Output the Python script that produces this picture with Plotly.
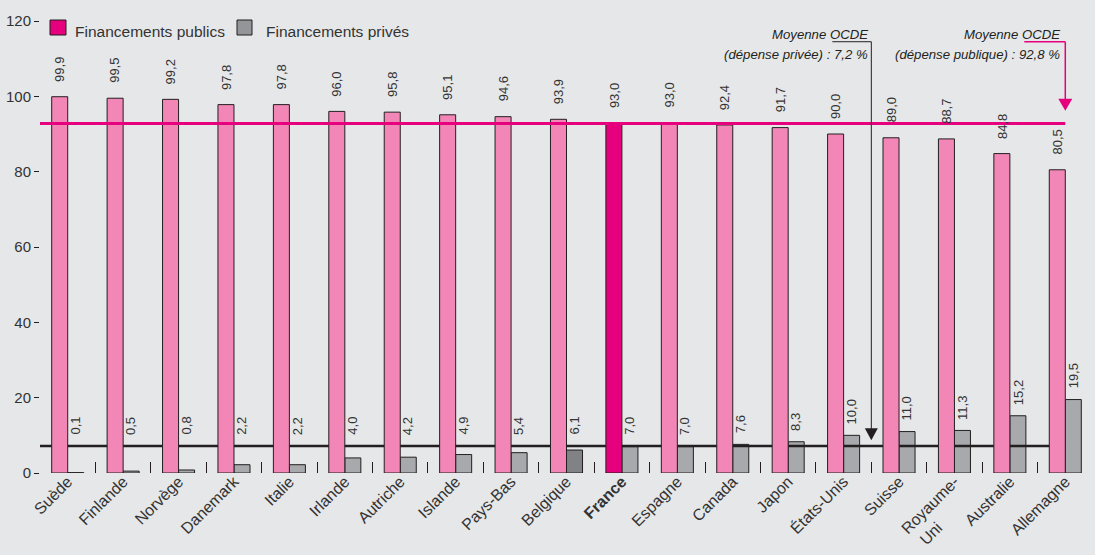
import plotly.graph_objects as go

countries = ["Suède", "Finlande", "Norvège", "Danemark", "Italie", "Irlande", "Autriche",
             "Islande", "Pays-Bas", "Belgique", "France", "Espagne", "Canada", "Japon",
             "États-Unis", "Suisse", "Royaume-Uni", "Australie", "Allemagne"]
tick_labels = ["Suède", "Finlande", "Norvège", "Danemark", "Italie", "Irlande", "Autriche",
               "Islande", "Pays-Bas", "Belgique", "<b>France</b>", "Espagne", "Canada", "Japon",
               "États-Unis", "Suisse", "Royaume-<br>Uni" + "\u00a0" * 10, "Australie",
               "Allemagne"]
public = [99.9, 99.5, 99.2, 97.8, 97.8, 96.0, 95.8, 95.1, 94.6, 93.9, 93.0, 93.0, 92.4,
          91.7, 90.0, 89.0, 88.7, 84.8, 80.5]
private = [0.1, 0.5, 0.8, 2.2, 2.2, 4.0, 4.2, 4.9, 5.4, 6.1, 7.0, 7.0, 7.6, 8.3, 10.0,
           11.0, 11.3, 15.2, 19.5]
oecd_public = 92.8
oecd_private = 7.2
y_ticks = [0, 20, 40, 60, 80, 100, 120]

PINK = "#f287b7"
MAGENTA = "#e6007e"
GREY = "#a7a9ac"
DARKGREY = "#808285"
BG = "#e6e7e8"
INK = "#231f20"
TXT = "#333333"
FONT = "Liberation Sans, Arial, sans-serif"

def fr(v):
    return f"{v:.1f}".replace(".", ",")

def cfont(size, color=TXT):
    return dict(family=FONT, size=size, color=color)

n = len(countries)
x = list(range(n))
BW = 0.289

pub_colors = [MAGENTA if c == "France" else PINK for c in countries]
priv_colors = [DARKGREY if c == "Belgique" else GREY for c in countries]

fig = go.Figure()
fig.add_trace(go.Bar(x=x, y=private, width=BW, offset=0, marker=dict(color=priv_colors,
              line=dict(color=INK, width=1)), showlegend=False, zorder=0, hoverinfo="skip"))
fig.add_trace(go.Scatter(x=[-0.5, n - 1], y=[oecd_private] * 2, mode="lines",
              line=dict(color=INK, width=2.5), showlegend=False, zorder=1, hoverinfo="skip"))
fig.add_trace(go.Bar(x=x, y=public, width=BW, offset=-BW, marker=dict(color=pub_colors,
              line=dict(color=INK, width=1)), showlegend=False, zorder=2, hoverinfo="skip"))
fig.add_trace(go.Scatter(x=[-0.5, n - 1], y=[oecd_public] * 2, mode="lines",
              line=dict(color=MAGENTA, width=3), showlegend=False, zorder=3, hoverinfo="skip"))

annotations = []
for i in range(n):
    annotations.append(dict(x=i - BW / 2, y=public[i], text=fr(public[i]), textangle=-90,
                            showarrow=False, yanchor="bottom", xanchor="center", yshift=13,
                            font=cfont(13)))
    annotations.append(dict(x=i + BW / 2, y=max(private[i], oecd_private), text=fr(private[i]),
                            textangle=-90, showarrow=False, yanchor="bottom", xanchor="center",
                            yshift=9, font=cfont(13)))

# OECD average notes
priv_x = 14.5
pub_x = n - 1
top_y = 114.5
for xx, xs, line2 in [(priv_x, -1, f"(dépense privée) : {fr(oecd_private)} %"),
                      (pub_x, -3, f"(dépense publique) : {fr(oecd_public)} %")]:
    annotations.append(dict(x=xx, y=116.4, xanchor="right", yanchor="middle", xshift=xs,
                            text="<i>Moyenne OCDE</i>", showarrow=False,
                            font=cfont(13.2, INK)))
    annotations.append(dict(x=xx, y=111.1, xanchor="right", yanchor="middle", xshift=xs,
                            text=f"<i>{line2}</i>", showarrow=False,
                            font=cfont(13.2, INK)))

# legend
annotations.append(dict(xref="paper", yref="paper", x=0, y=1, xshift=33, yshift=-10,
                        xanchor="left", yanchor="middle", showarrow=False,
                        text="Financements publics", font=cfont(15.5)))
annotations.append(dict(xref="paper", yref="paper", x=0, y=1, xshift=224, yshift=-10,
                        xanchor="left", yanchor="middle", showarrow=False,
                        text="Financements privés", font=cfont(15.5)))

shapes = [
    dict(type="rect", xref="paper", yref="paper", xsizemode="pixel", ysizemode="pixel",
         xanchor=0, yanchor=1, x0=10, x1=26, y0=1, y1=-14,
         fillcolor=MAGENTA, line=dict(color=INK, width=1)),
    dict(type="rect", xref="paper", yref="paper", xsizemode="pixel", ysizemode="pixel",
         xanchor=0, yanchor=1, x0=197, x1=212, y0=1, y1=-14,
         fillcolor="#939598", line=dict(color=INK, width=1)),
    # private arrow
    dict(type="line", xref="x", yref="y", xsizemode="pixel", xanchor=priv_x, x0=-39, x1=0,
         y0=top_y, y1=top_y, line=dict(color=INK, width=1)),
    dict(type="line", xref="x", yref="y", x0=priv_x, x1=priv_x, y0=top_y, y1=11.5,
         line=dict(color=INK, width=1)),
    dict(type="path", xref="x", yref="y", xsizemode="pixel", ysizemode="pixel",
         xanchor=priv_x, yanchor=8.7, path="M-6.5,12 L6.5,12 L0,0 Z",
         fillcolor=INK, line=dict(color=INK, width=0)),
    # public arrow
    dict(type="line", xref="x", yref="y", xsizemode="pixel", xanchor=pub_x, x0=-41, x1=0,
         y0=top_y, y1=top_y, line=dict(color=MAGENTA, width=1.5)),
    dict(type="line", xref="x", yref="y", x0=pub_x, x1=pub_x, y0=top_y, y1=99,
         line=dict(color=MAGENTA, width=1.5)),
    dict(type="path", xref="x", yref="y", xsizemode="pixel", ysizemode="pixel",
         xanchor=pub_x, yanchor=96.2, path="M-7,12 L7,12 L0,0 Z",
         fillcolor=MAGENTA, line=dict(color=MAGENTA, width=0)),
]

fig.update_layout(
    width=1095, height=555,
    margin=dict(l=40, r=2, t=21, b=82),
    paper_bgcolor=BG, plot_bgcolor=BG,
    barmode="overlay",
    showlegend=False,
    annotations=annotations,
    shapes=shapes,
    xaxis=dict(range=[-0.5, n - 0.5], tickmode="array", tickvals=x, ticktext=tick_labels,
               tickangle=-45, ticks="", showgrid=False, zeroline=False, showline=True,
               linecolor="#555555", linewidth=1, automargin=False, ticklabelstandoff=-8,
               tickfont=dict(family=FONT, size=16, color=TXT),
               minor=dict(tickmode="array", tickvals=[i + 0.5 for i in range(n - 1)],
                          ticks="inside", ticklen=11, tickcolor=INK, tickwidth=1, showgrid=False)),
    yaxis=dict(range=[0, 120], tickmode="array", tickvals=y_ticks, ticks="outside", ticklen=5,
               tickcolor=INK, showgrid=False, zeroline=False, showline=True, linecolor=INK,
               linewidth=1, automargin=False, tickfont=cfont(15)),
)

fig.write_html("out.html", config={"displayModeBar": False},
               post_script="document.body.style.margin='0';document.body.style.overflow='hidden';")
